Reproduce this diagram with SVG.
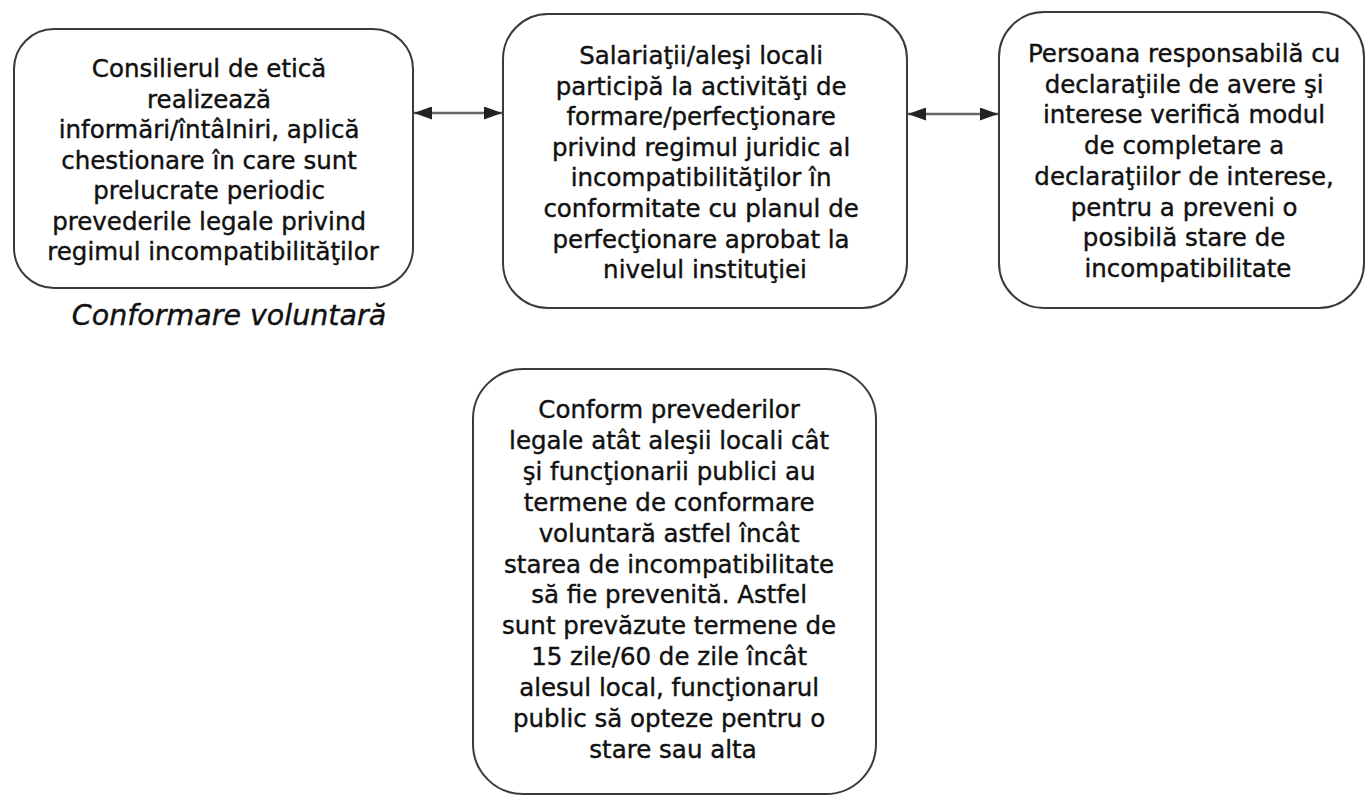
<svg xmlns="http://www.w3.org/2000/svg" width="1366" height="796" viewBox="0 0 1366 796">
<defs>
<style>
.box{fill:#fff;stroke:#3a3a3a;stroke-width:2}
.t{font-family:"DejaVu Sans","Noto Sans",sans-serif;font-size:24.5px;fill:#111;stroke:#111;stroke-width:0.4;text-anchor:middle}
.lbl{font-family:"DejaVu Sans","Noto Sans",sans-serif;font-size:28.5px;font-style:italic;fill:#111;stroke:#111;stroke-width:0.4;text-anchor:middle}
.conn{stroke:#666;stroke-width:2.5;fill:none;marker-start:url(#ah);marker-end:url(#ah)}
</style>
<marker id="ah" viewBox="0 0 10 10" refX="10" refY="5" markerUnits="userSpaceOnUse" markerWidth="18" markerHeight="13" preserveAspectRatio="none" orient="auto-start-reverse">
<path d="M0,0 L10,5 L0,10 z" fill="#222"/>
</marker>
</defs>
<rect width="1366" height="796" fill="#fff"/>
<g id="connectors">
<line class="conn" x1="414" y1="113" x2="502" y2="113"/>
<line class="conn" x1="908" y1="114" x2="998" y2="114"/>
</g>
<g id="node1">
<rect class="box" x="14" y="29" width="399" height="259" rx="40"/>
<text class="t">
<tspan x="213" y="77">Consilierul de etică</tspan>
<tspan x="213" y="107.5">realizează</tspan>
<tspan x="213" y="138">informări/întâlniri, aplică</tspan>
<tspan x="213" y="168.5">chestionare în care sunt</tspan>
<tspan x="213" y="199">prelucrate periodic</tspan>
<tspan x="213" y="229.5">prevederile legale privind</tspan>
<tspan x="213" y="260">regimul incompatibilităţilor</tspan>
</text>
</g>
<g id="label">
<text class="lbl" x="229" y="325">Conformare voluntară</text>
</g>
<g id="node2">
<rect class="box" x="503" y="14" width="404" height="294" rx="45"/>
<text class="t">
<tspan x="705" y="64">Salariaţii/aleşi locali</tspan>
<tspan x="705" y="94.6">participă la activităţi de</tspan>
<tspan x="705" y="125.2">formare/perfecţionare</tspan>
<tspan x="705" y="155.8">privind regimul juridic al</tspan>
<tspan x="705" y="186.4">incompatibilităţilor în</tspan>
<tspan x="705" y="217">conformitate cu planul de</tspan>
<tspan x="705" y="247.6">perfecţionare aprobat la</tspan>
<tspan x="705" y="278.2">nivelul instituţiei</tspan>
</text>
</g>
<g id="node3">
<rect class="box" x="999" y="12" width="365" height="296" rx="45"/>
<text class="t">
<tspan x="1188" y="62">Persoana responsabilă cu</tspan>
<tspan x="1188" y="92.7">declaraţiile de avere şi</tspan>
<tspan x="1188" y="123.4">interese verifică modul</tspan>
<tspan x="1188" y="154.1">de completare a</tspan>
<tspan x="1188" y="184.8">declaraţiilor de interese,</tspan>
<tspan x="1188" y="215.5">pentru a preveni o</tspan>
<tspan x="1188" y="246.2">posibilă stare de</tspan>
<tspan x="1188" y="276.9">incompatibilitate</tspan>
</text>
</g>
<g id="node4">
<rect class="box" x="473" y="369" width="403" height="425" rx="50"/>
<text class="t">
<tspan x="673" y="418">Conform prevederilor</tspan>
<tspan x="673" y="448.9">legale atât aleşii locali cât</tspan>
<tspan x="673" y="479.8">şi funcţionarii publici au</tspan>
<tspan x="673" y="510.7">termene de conformare</tspan>
<tspan x="673" y="541.6">voluntară astfel încât</tspan>
<tspan x="673" y="572.5">starea de incompatibilitate</tspan>
<tspan x="673" y="603.4">să fie prevenită. Astfel</tspan>
<tspan x="673" y="634.3">sunt prevăzute termene de</tspan>
<tspan x="673" y="665.2">15 zile/60 de zile încât</tspan>
<tspan x="673" y="696.1">alesul local, funcţionarul</tspan>
<tspan x="673" y="727">public să opteze pentru o</tspan>
<tspan x="673" y="757.9">stare sau alta</tspan>
</text>
</g>
</svg>
